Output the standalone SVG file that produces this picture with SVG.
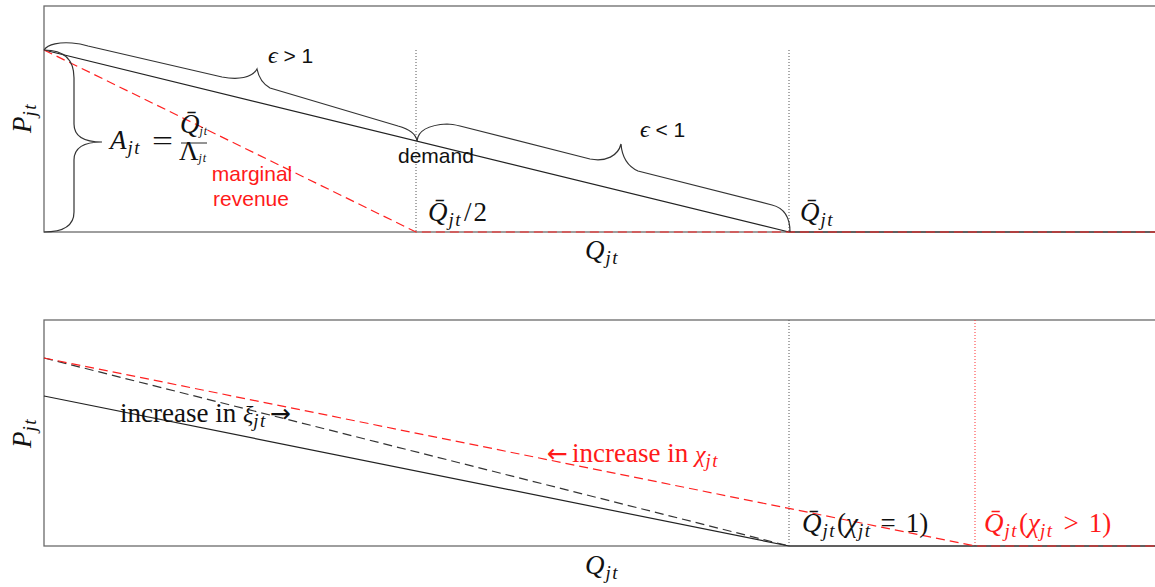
<svg xmlns="http://www.w3.org/2000/svg" width="1155" height="587" viewBox="0 0 1155 587">
<style>
.frame{fill:none;stroke:#6a6a6a;stroke-width:1.3}
.dem{fill:none;stroke:#222;stroke-width:1.2}
.dash{fill:none;stroke:#333;stroke-width:1.2;stroke-dasharray:9 5}
.red{fill:none;stroke:#ff2020;stroke-width:1.2;stroke-dasharray:9 5}
.dot{fill:none;stroke:#555;stroke-width:1;stroke-dasharray:1 2}
.rdot{fill:none;stroke:#ff3030;stroke-width:1;stroke-dasharray:1 2}
.brace{fill:none;stroke:#333;stroke-width:1.2}
.m{font-family:"Liberation Serif","DejaVu Serif",serif;font-size:27px;fill:#111}
.i{font-style:italic}
.s{font-size:19px;letter-spacing:1.5px}
.arr{font-family:"DejaVu Sans",sans-serif;font-size:25px}
.sans{font-family:"Liberation Sans",Arial,sans-serif;font-size:21px;fill:#111}
.rtxt{fill:#ff1a1a}
</style>
<rect width="1155" height="587" fill="#fff"/>

<g id="panel-top">
  <rect class="frame" x="44" y="6" width="1120" height="226"/>
</g>
<g id="panel-bottom">
  <rect class="frame" x="44" y="320" width="1120" height="226"/>
</g>

<g id="connectors">
  <line class="dot" x1="416" y1="50" x2="416" y2="232"/>
  <line class="dot" x1="789" y1="50" x2="789" y2="232"/>
  <polyline class="dem" points="44,50 789,232 1160,232"/>
  <polyline class="red" points="44,50 416,232 1160,232"/>
  <line class="dot" x1="789" y1="320" x2="789" y2="546"/>
  <line class="rdot" x1="975" y1="320" x2="975" y2="546"/>
  <polyline class="dem" points="44,396 789,546 1160,546"/>
  <polyline class="dash" points="44,358 789,546"/>
  <polyline class="red" points="44,358 975,546 1160,546"/>
</g>

<g id="braces">
  <path id="brace-left" class="brace" d="M44,50 C62,50 74,58 74,78 L74,124 C74,136 84,142 102,142 C84,142 74,148 74,160 L74,212 C74,226 62,232 44,232"/>
  <path id="brace-elastic" class="brace" d="M44,50 C48,44 60,42 72,43 C78,43.5 83,44.5 88,46 L222,77 C238,80 252,78 257,69 C259,79 263,84 270,88 L398,126 C409,129 416,134 417,141"/>
  <path id="brace-inelastic" class="brace" d="M417,141 C418,131 428,125 447,124 C452,124 456,125 460,126 L590,159 C606,162 618,156 621,144 C622,157 627,166 638,171 L772,205 C784,208 790,218 790,232"/>
</g>

<g id="labels-top">
  <text class="m" transform="translate(31,118) rotate(-90)" text-anchor="middle"><tspan class="i">P</tspan><tspan class="i s" dy="5">jt</tspan></text>
  <text class="m" x="585" y="259"><tspan class="i">Q</tspan><tspan class="i s" dx="1" dy="5">jt</tspan></text>
  <text class="m" x="268" y="63"><tspan class="i" font-size="24">ϵ</tspan><tspan class="sans" font-size="20"> &gt; 1</tspan></text>
  <text class="m" x="640" y="137"><tspan class="i" font-size="24">ϵ</tspan><tspan class="sans" font-size="20"> &lt; 1</tspan></text>
  <text class="sans" x="398" y="163">demand</text>
  <text class="sans rtxt" x="252" y="181" text-anchor="middle">marginal</text>
  <text class="sans rtxt" x="251" y="206" text-anchor="middle">revenue</text>
  <text class="m" x="428" y="221"><tspan class="i">Q̄</tspan><tspan class="i s" dx="1" dy="5">jt</tspan><tspan dx="2" dy="-5">/</tspan><tspan dx="2">2</tspan></text>
  <text class="m" x="800" y="221"><tspan class="i">Q̄</tspan><tspan class="i s" dx="1" dy="5">jt</tspan></text>
  <g id="label-A">
    <text class="m" x="110" y="149"><tspan class="i">A</tspan><tspan class="i s" dx="1" dy="5">jt</tspan></text>
    <text class="m" x="152" y="150" textLength="21" lengthAdjust="spacingAndGlyphs">=</text>
    <line x1="181" y1="143" x2="207" y2="143" stroke="#111" stroke-width="0.9"/>
    <text class="m" x="194" y="133" font-size="16" text-anchor="middle"><tspan class="i">Q̄</tspan><tspan class="i" font-size="12" dy="2" letter-spacing="1">jt</tspan></text>
    <text class="m" x="193" y="160" font-size="16" text-anchor="middle"><tspan>Λ</tspan><tspan class="i" font-size="12" dy="2" letter-spacing="1">jt</tspan></text>
  </g>
</g>

<g id="labels-bottom">
  <text class="m" transform="translate(31,433) rotate(-90)" text-anchor="middle"><tspan class="i">P</tspan><tspan class="i s" dy="5">jt</tspan></text>
  <text class="m" x="585" y="574"><tspan class="i">Q</tspan><tspan class="i s" dx="1" dy="5">jt</tspan></text>
  <text class="m" x="120" y="422" font-size="22">increase in <tspan class="i" font-size="24">ξ</tspan><tspan class="i s" font-size="16" dy="5">jt</tspan><tspan class="arr" dx="3" dy="-5">→</tspan></text>
  <text class="m rtxt" x="547" y="462" font-size="22"><tspan class="arr">←</tspan><tspan dx="4">increase in </tspan><tspan class="i" font-size="24">χ</tspan><tspan class="i s" font-size="16" dy="5">jt</tspan></text>
  <text class="m" x="802" y="532"><tspan class="i">Q̄</tspan><tspan class="i s" dx="1" dy="5">jt</tspan><tspan dx="1" dy="-5">(</tspan><tspan class="i">χ</tspan><tspan class="i s" dy="5">jt</tspan><tspan dx="9" dy="-5">=</tspan><tspan dx="10">1)</tspan></text>
  <text class="m rtxt" x="984" y="532"><tspan class="i">Q̄</tspan><tspan class="i s" dx="1" dy="5">jt</tspan><tspan dx="1" dy="-5">(</tspan><tspan class="i">χ</tspan><tspan class="i s" dy="5">jt</tspan><tspan dx="10" dy="-5">&gt;</tspan><tspan dx="10">1)</tspan></text>
</g>
</svg>
